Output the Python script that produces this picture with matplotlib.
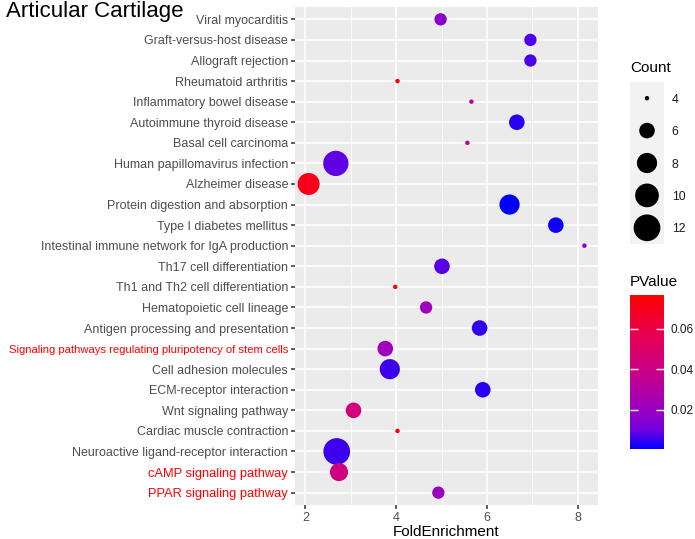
import numpy as np
import matplotlib
matplotlib.use("Agg")
import matplotlib.pyplot as plt
from matplotlib.colors import LinearSegmentedColormap, Normalize
from matplotlib.cm import ScalarMappable

plt.rcParams["font.family"] = ["Liberation Sans", "DejaVu Sans"]

# top to bottom, as in the figure
pathways = [
    "Viral myocarditis",
    "Graft-versus-host disease",
    "Allograft rejection",
    "Rheumatoid arthritis",
    "Inflammatory bowel disease",
    "Autoimmune thyroid disease",
    "Basal cell carcinoma",
    "Human papillomavirus infection",
    "Alzheimer disease",
    "Protein digestion and absorption",
    "Type I diabetes mellitus",
    "Intestinal immune network for IgA production",
    "Th17 cell differentiation",
    "Th1 and Th2 cell differentiation",
    "Hematopoietic cell lineage",
    "Antigen processing and presentation",
    "Signaling pathways regulating pluripotency of stem cells",
    "Cell adhesion molecules",
    "ECM-receptor interaction",
    "Wnt signaling pathway",
    "Cardiac muscle contraction",
    "Neuroactive ligand-receptor interaction",
    "cAMP signaling pathway",
    "PPAR signaling pathway",
]
fold_enrichment = [4.98, 6.96, 6.96, 4.03, 5.66, 6.66, 5.57, 2.67, 2.07, 6.50,
                   7.52, 8.15, 5.01, 3.98, 4.66, 5.84, 3.76, 3.86, 5.91, 3.06,
                   4.03, 2.69, 2.74, 4.93]
counts = [5, 5, 5, 4, 4, 6, 4, 11, 9, 8,
          6, 4, 6, 4, 5, 6, 6, 8, 6, 6,
          4, 12, 7, 5]
pvalues = [0.016, 0.007, 0.007, 0.0768, 0.032, 0.004, 0.035, 0.009, 0.070, 0.0007,
           0.002, 0.015, 0.008, 0.0765, 0.022, 0.005, 0.022, 0.006, 0.004, 0.044,
           0.0765, 0.006, 0.042, 0.020]
red_labels = {
    "Signaling pathways regulating pluripotency of stem cells": 8.1,
    "cAMP signaling pathway": 9.3,
    "PPAR signaling pathway": 9.3,
}
size_breaks = [4, 6, 8, 10, 12]
pvalue_ticks = [0.02, 0.04, 0.06]
x_ticks = [2, 4, 6, 8]

W, H, DPI = 695, 539, 100


def point_area(c):
    # ggplot style area scale, range 1..6
    c = np.asarray(c, dtype=float)
    d = 4.45 * (1 + 5 * np.sqrt((c - 4) / 8.0))
    return (d * 72 / DPI) ** 2


# blue -> red, roughly the Lab path ggplot takes
cmap = LinearSegmentedColormap.from_list(
    "bluered",
    [(0.0, "#0000ff"), (0.125, "#7300e0"), (0.25, "#9a00c2"),
     (0.5, "#c90088"), (0.75, "#e80050"), (1.0, "#ff0000")],
)
norm = Normalize(vmin=min(pvalues), vmax=max(pvalues))

fig = plt.figure(figsize=(W / DPI, H / DPI), dpi=DPI)

ax = fig.add_axes([295 / W, 1 - 505 / H, (598 - 295) / W, (505 - 7) / H])
ax.set_facecolor("#EBEBEB")
for s in ax.spines.values():
    s.set_visible(False)

n = len(pathways)
ypos = np.arange(n)
ax.scatter(fold_enrichment, ypos, s=point_area(counts), c=pvalues,
           cmap=cmap, norm=norm, linewidths=0, zorder=3)

ax.set_xlim(1.77, 8.45)
ax.set_ylim(n - 1 + 0.6, -0.6)
ax.set_xticks(x_ticks)
ax.set_xticks([3, 5, 7], minor=True)
ax.set_yticks(ypos)
ax.set_yticklabels(pathways)
ax.grid(which="major", color="white", linewidth=1.1)
ax.grid(which="minor", axis="x", color="white", linewidth=0.55)
ax.set_axisbelow(True)
ax.tick_params(axis="both", which="major", length=3, width=1.1, color="#333333",
               labelcolor="#4D4D4D", labelsize=9, pad=2)
ax.tick_params(axis="x", which="minor", length=0)
for lab in ax.get_yticklabels():
    if lab.get_text() in red_labels:
        lab.set_color("red")
        lab.set_fontsize(red_labels[lab.get_text()])
ax.set_xlabel("FoldEnrichment", fontsize=11, labelpad=1)

fig.text(6 / W, 1 - 12 / H, "Articular Cartilage", fontsize=16, va="center")

# size legend
fig.text(630 / W, 1 - 68 / H, "Count", fontsize=11, va="center")
lax = fig.add_axes([630 / W, 1 - 244 / H, 34 / W, 162 / H])
lax.set_facecolor("#F2F2F2")
for s in lax.spines.values():
    s.set_visible(False)
lax.scatter(np.zeros(len(size_breaks)), np.arange(len(size_breaks)),
            s=point_area(size_breaks), c="black", linewidths=0)
lax.set_xlim(-1, 1)
lax.set_ylim(len(size_breaks) - 0.5, -0.5)
lax.set_xticks([])
lax.set_yticks(np.arange(len(size_breaks)))
lax.set_yticklabels([str(b) for b in size_breaks])
lax.yaxis.tick_right()
lax.tick_params(axis="y", length=0, pad=5.5, labelsize=8.8, labelcolor="#1A1A1A")

# colour bar
fig.text(630 / W, 1 - 282 / H, "PValue", fontsize=11, va="center")
cax = fig.add_axes([630 / W, 1 - 449 / H, 34 / W, 154 / H])
sm = ScalarMappable(norm=norm, cmap=cmap)
cb = fig.colorbar(sm, cax=cax, ticks=pvalue_ticks)
cb.outline.set_visible(False)
cb.ax.set_yticklabels(["%.2f" % t for t in pvalue_ticks])
cax.tick_params(direction="in", left=True, right=True, color="white", width=1,
                length=6, labelsize=8.5, labelcolor="#1A1A1A", pad=5)

fig.savefig("out.png", dpi=DPI)
